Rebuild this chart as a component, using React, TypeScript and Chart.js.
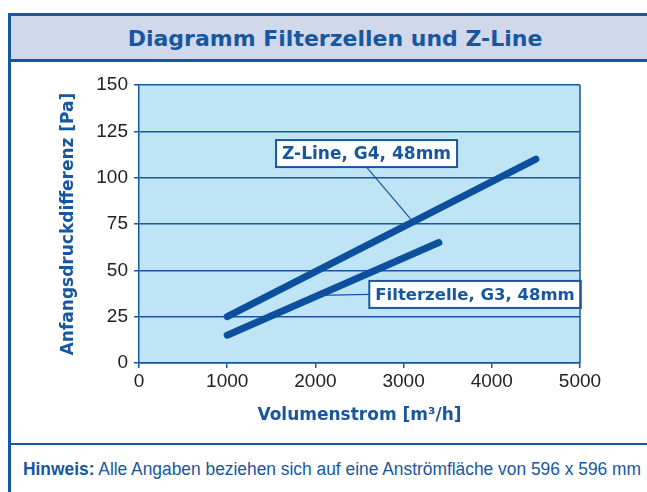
import React, { useEffect, useRef } from "react";
import { Chart, registerables } from "chart.js";

Chart.register(...registerables);

// ---- data ----
const zLineX = [1000, 4500];
const zLineY = [25, 110];
const filterX = [1000, 3400];
const filterY = [15, 65];
const xTicks = [0, 1000, 2000, 3000, 4000, 5000];
const yTicks = [0, 25, 50, 75, 100, 125, 150];
const labelTexts = ["Z-Line, G4, 48mm", "Filterzelle, G3, 48mm"];
const labelCenterX = [2580, 3810];
const labelCenterY = [113, 37];
const leaderTargetX = [3100, 2030];
const leaderTargetY = [76.5, 36.5];
const leaderSide = ["bottom", "left"];

const BLUE = "#1757a0";
const LINE = "#0c509d";
const PLOT_BG = "#bee4f6";

const plotDecor = {
  id: "plotDecor",
  beforeDraw(chart: any) {
    const { ctx, chartArea: a } = chart;
    ctx.save();
    ctx.fillStyle = PLOT_BG;
    ctx.fillRect(a.left, a.top, a.right - a.left, a.bottom - a.top);
    ctx.restore();
  },
  afterDraw(chart: any) {
    const { ctx, chartArea: a } = chart;
    ctx.save();
    ctx.strokeStyle = BLUE;
    ctx.lineWidth = 1.5;
    ctx.beginPath();
    ctx.moveTo(a.right, a.top);
    ctx.lineTo(a.right, a.bottom);
    ctx.stroke();
    ctx.restore();
  },
};

const labelPlugin = {
  id: "labelPlugin",
  afterDatasetsDraw(chart: any) {
    const { ctx } = chart;
    const xs = chart.scales.x;
    const ys = chart.scales.y;
    ctx.save();
    labelTexts.forEach((t, i) => {
      ctx.font = i === 0 ? "bold 17px 'DejaVu Sans'" : "bold 16.5px 'DejaVu Sans'";
      const cx = xs.getPixelForValue(labelCenterX[i]);
      const cy = ys.getPixelForValue(labelCenterY[i]);
      const w = ctx.measureText(t).width + 12;
      const h = 27;
      const bx = cx - w / 2;
      const by = cy - h / 2;
      // leader
      const tx = xs.getPixelForValue(leaderTargetX[i]);
      const ty = ys.getPixelForValue(leaderTargetY[i]);
      ctx.strokeStyle = BLUE;
      ctx.lineWidth = 1.2;
      ctx.beginPath();
      if (leaderSide[i] === "bottom") ctx.moveTo(cx, by + h);
      else ctx.moveTo(bx, cy);
      ctx.lineTo(tx, ty);
      ctx.stroke();
      // box
      ctx.fillStyle = "#ffffff";
      ctx.fillRect(bx, by, w, h);
      ctx.lineWidth = 2;
      ctx.strokeRect(bx, by, w, h);
      ctx.fillStyle = BLUE;
      ctx.textAlign = "center";
      ctx.textBaseline = "middle";
      ctx.fillText(t, cx, cy + 1);
    });
    ctx.restore();
  },
};

function ChartView() {
  const ref = useRef<HTMLCanvasElement>(null);
  useEffect(() => {
    if (!ref.current) return;
    const chart = new Chart(ref.current, {
      type: "line",
      data: {
        datasets: [
          {
            label: labelTexts[0],
            data: zLineX.map((x, i) => ({ x, y: zLineY[i] })),
            borderColor: LINE,
            borderWidth: 7,
            borderCapStyle: "round",
            pointRadius: 0,
            fill: false,
          },
          {
            label: labelTexts[1],
            data: filterX.map((x, i) => ({ x, y: filterY[i] })),
            borderColor: LINE,
            borderWidth: 7,
            borderCapStyle: "round",
            pointRadius: 0,
            fill: false,
          },
        ],
      },
      options: {
        animation: false,
        responsive: false,
        layout: { padding: { left: 0, top: 23, right: 67, bottom: 0 } },
        plugins: { legend: { display: false }, tooltip: { enabled: false } },
        scales: {
          x: {
            type: "linear",
            min: xTicks[0],
            max: xTicks[xTicks.length - 1],
            afterFit: (s: any) => {
              s.height = 80;
            },
            afterBuildTicks: (s: any) => {
              s.ticks = xTicks.map((v) => ({ value: v }));
            },
            ticks: {
              color: "#222",
              font: { family: "'Liberation Sans'", size: 19 },
              padding: 2,
              maxRotation: 0,
              callback: (v: any) => String(v),
            },
            grid: {
              drawOnChartArea: false,
              drawTicks: true,
              tickLength: 5,
              color: BLUE,
              lineWidth: 1.5,
            },
            border: { display: true, color: BLUE, width: 1.5 },
            title: {
              display: true,
              text: "Volumenstrom [m³/h]",
              color: BLUE,
              font: { family: "'DejaVu Sans'", size: 17, weight: "bold" },
              padding: { top: 0, bottom: 17 },
            },
          },
          y: {
            type: "linear",
            min: yTicks[0],
            max: yTicks[yTicks.length - 1],
            afterFit: (s: any) => {
              s.width = 128;
            },
            afterBuildTicks: (s: any) => {
              s.ticks = yTicks.map((v) => ({ value: v }));
            },
            ticks: {
              color: "#222",
              font: { family: "'Liberation Sans'", size: 19 },
              padding: 6,
              callback: (v: any) => String(v),
            },
            grid: {
              drawOnChartArea: true,
              drawTicks: true,
              tickLength: 5,
              color: BLUE,
              lineWidth: 1.5,
            },
            border: { display: true, color: BLUE, width: 1.5 },
            title: {
              display: true,
              text: "Anfangsdruckdifferenz [Pa]",
              color: BLUE,
              font: { family: "'DejaVu Sans'", size: 17, weight: "bold" },
              padding: { top: 47, bottom: 0 },
            },
          },
        },
      },
      plugins: [plotDecor, labelPlugin],
    });
    return () => chart.destroy();
  }, []);
  return (
    <canvas
      ref={ref}
      width={636}
      height={381}
      style={{ position: "absolute", left: 11, top: 62, width: 636, height: 381 }}
    />
  );
}

export default function App() {
  return (
    <div
      style={{
        position: "fixed",
        left: 0,
        top: 0,
        width: 647,
        height: 492,
        overflow: "hidden",
        background: "#fff",
      }}
    >
      <div
        style={{
          position: "absolute",
          left: 8,
          top: 13,
          width: 680,
          height: 490,
          borderLeft: `3px solid ${BLUE}`,
          borderTop: `3px solid ${BLUE}`,
          boxSizing: "border-box",
        }}
      />
      <div
        style={{
          position: "absolute",
          left: 11,
          top: 16,
          width: 662,
          height: 43,
          background: "#d2d8ec",
          borderBottom: `3px solid ${BLUE}`,
          boxSizing: "content-box",
          fontFamily: "'DejaVu Sans'",
          fontWeight: "bold",
          fontSize: 22,
          color: BLUE,
        }}
      >
        <div
          style={{
            position: "absolute",
            left: 0,
            width: 662,
            top: 0,
            height: 43,
            display: "flex",
            alignItems: "center",
            justifyContent: "center",
          }}
        >
          <span style={{ position: "relative", left: -7, top: 1 }}>Diagramm Filterzellen und Z-Line</span>
        </div>
      </div>
      <ChartView />
      <div
        style={{
          position: "absolute",
          left: 11,
          top: 443,
          width: 662,
          height: 49,
          borderTop: `2px solid ${BLUE}`,
          fontFamily: "'Liberation Sans'",
          fontSize: 18,
          color: BLUE,
          whiteSpace: "nowrap",
        }}
      >
        <div
          style={{
            position: "absolute",
            left: 12,
            top: 14,
            transform: "scaleX(0.965)",
            transformOrigin: "0 0",
          }}
        >
          <b>Hinweis:</b> Alle Angaben beziehen sich auf eine Anströmfläche von 596 x 596 mm
        </div>
      </div>
    </div>
  );
}
